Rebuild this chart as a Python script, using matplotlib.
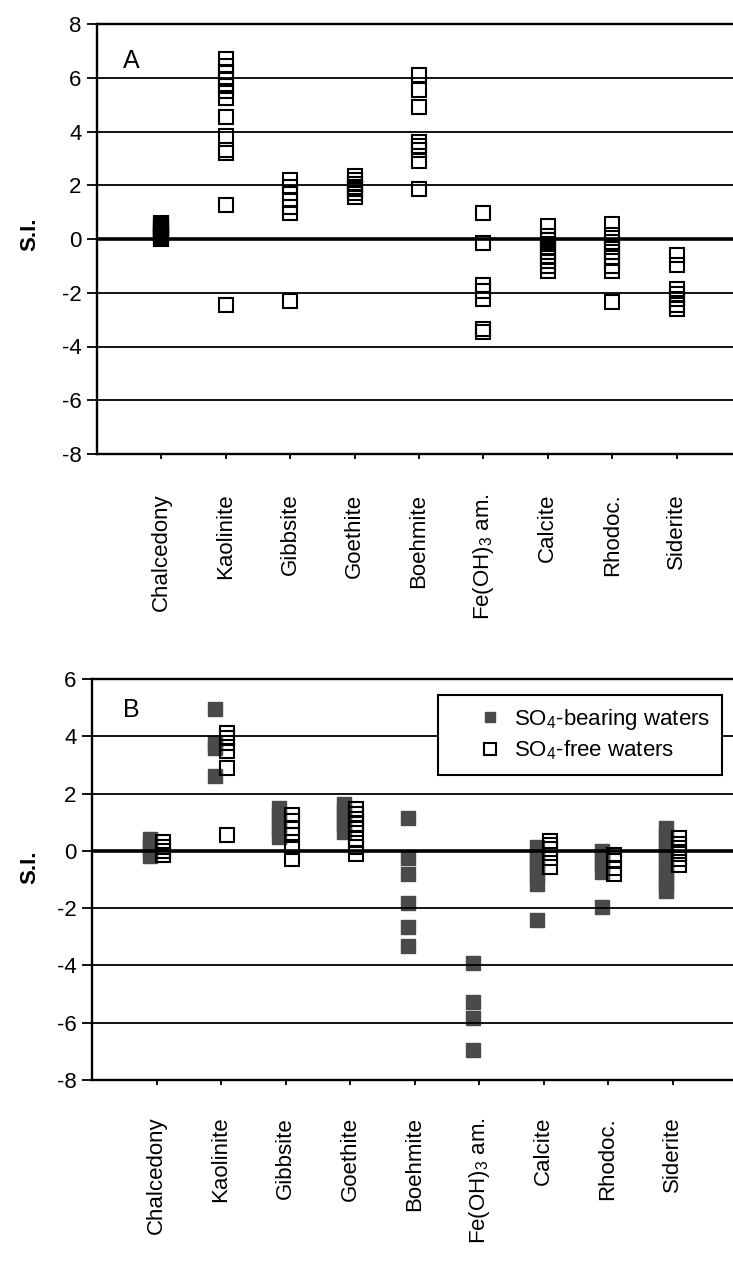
import matplotlib
matplotlib.use("Agg")
import matplotlib.pyplot as plt
from matplotlib.lines import Line2D

plt.rcParams['font.family'] = ['Liberation Sans', 'DejaVu Sans']
plt.rcParams['mathtext.default'] = 'regular'

categories = ["Chalcedony", "Kaolinite", "Gibbsite", "Goethite", "Boehmite",
              "Fe(OH)$_3$ am.", "Calcite", "Rhodoc.", "Siderite"]

# Panel A: saturation indices (all samples)
chalcedony_A = [0.0, 0.05, 0.1, 0.15, 0.2, 0.25, 0.3, 0.35, 0.4, 0.45, 0.5, 0.55, 0.6]
kaolinite_A = [6.7, 6.45, 6.2, 5.95, 5.7, 5.5, 5.25, 4.55, 3.85, 3.3, 3.2, 1.28, -2.46]
gibbsite_A = [2.2, 1.95, 1.7, 1.45, 1.2, 0.97, -2.3]
goethite_A = [2.35, 2.2, 2.05, 1.95, 1.85, 1.7, 1.57]
boehmite_A = [6.1, 5.55, 4.9, 3.6, 3.45, 3.3, 2.9, 1.85]
feoh3_A = [0.95, -0.15, -1.7, -1.95, -2.25, -3.35, -3.45]
calcite_A = [0.5, 0.1, -0.05, -0.2, -0.35, -0.5, -0.65, -0.8, -1.0, -1.2]
rhodoc_A = [0.55, 0.15, -0.1, -0.3, -0.5, -0.7, -1.0, -1.2, -2.35]
siderite_A = [-0.6, -0.95, -1.85, -2.05, -2.25, -2.45, -2.6]
panel_A = [chalcedony_A, kaolinite_A, gibbsite_A, goethite_A, boehmite_A,
           feoh3_A, calcite_A, rhodoc_A, siderite_A]

# Panel B: SO4-bearing waters (filled)
chalcedony_B_so4 = [0.4, 0.2, 0.0, -0.19]
kaolinite_B_so4 = [4.95, 3.75, 3.6, 2.62]
gibbsite_B_so4 = [1.5, 1.25, 1.0, 0.75, 0.5]
goethite_B_so4 = [1.65, 1.4, 1.15, 0.9, 0.67]
boehmite_B_so4 = [1.16, -0.26, -0.81, -1.81, -2.65, -3.32]
feoh3_B_so4 = [-3.9, -5.27, -5.85, -6.95]
calcite_B_so4 = [0.15, -0.1, -0.35, -0.6, -0.85, -1.15, -2.4]
rhodoc_B_so4 = [0.0, -0.25, -0.5, -0.75, -1.95]
siderite_B_so4 = [0.8, 0.55, 0.3, 0.05, -0.2, -0.45, -0.7, -0.95, -1.2, -1.4]
panel_B_so4 = [chalcedony_B_so4, kaolinite_B_so4, gibbsite_B_so4, goethite_B_so4,
               boehmite_B_so4, feoh3_B_so4, calcite_B_so4, rhodoc_B_so4, siderite_B_so4]

# Panel B: SO4-free waters (open)
chalcedony_B_free = [0.3, 0.15, 0.0, -0.13]
kaolinite_B_free = [4.1, 3.95, 3.75, 3.5, 2.9, 0.55]
gibbsite_B_free = [1.25, 1.05, 0.8, 0.55, 0.15, -0.3]
goethite_B_free = [1.45, 1.3, 1.1, 0.95, 0.75, 0.4, 0.15, -0.1]
boehmite_B_free = []
feoh3_B_free = []
calcite_B_free = [0.35, 0.2, 0.05, -0.25, -0.55]
rhodoc_B_free = [-0.15, -0.35, -0.6, -0.8]
siderite_B_free = [0.45, 0.25, 0.1, -0.1, -0.3, -0.48]
panel_B_free = [chalcedony_B_free, kaolinite_B_free, gibbsite_B_free, goethite_B_free,
                boehmite_B_free, feoh3_B_free, calcite_B_free, rhodoc_B_free, siderite_B_free]

A_ticks = [-8, -6, -4, -2, 0, 2, 4, 6, 8]
B_ticks = [-8, -6, -4, -2, 0, 2, 4, 6]

W, H = 733, 1267
fig = plt.figure(figsize=(W / 100, H / 100), dpi=100)

FILL = '#4a4a4a'
MS = 9.4
MEW = 1.5
FS = 16


def style_axes(ax, ticks):
    ax.set_xlim(0, 10)
    ax.set_ylim(ticks[0], ticks[-1])
    ax.set_yticks(ticks)
    ax.set_yticklabels([str(t) for t in ticks])
    ax.set_xticks(range(1, len(categories) + 1))
    ax.set_xticklabels(categories, rotation=90, ha='center', va='top')
    ax.yaxis.grid(True, color='black', lw=1.3)
    ax.set_axisbelow(False)
    ax.axhline(0, color='black', lw=2.6, zorder=3)
    for s in ['left', 'bottom', 'top']:
        ax.spines[s].set_linewidth(1.7)
    ax.spines['right'].set_visible(False)
    ax.tick_params(axis='y', direction='out', length=7, width=1.3, pad=4, labelsize=FS)
    ax.tick_params(axis='x', direction='out', length=3.5, width=1.3, pad=25, labelsize=FS)


# ---- Panel A ----
axA = fig.add_axes([97 / W, 1 - 454 / H, 644 / W, 430 / H])
for i, vals in enumerate(panel_A):
    axA.plot([i + 1] * len(vals), vals, ls='none', marker='s', ms=MS,
             mfc='none', mec='black', mew=MEW, zorder=2)
style_axes(axA, A_ticks)
axA.set_ylabel('S.I.', fontsize=FS, fontweight='bold', va='center')
axA.yaxis.set_label_coords(-67 / 644, 0.51)
axA.text(0.4, 6.63, 'A', fontsize=18, va='center', ha='left')

# ---- Panel B ----
axB = fig.add_axes([92 / W, 1 - 1080 / H, 645 / W, 401 / H])
for i, vals in enumerate(panel_B_so4):
    axB.plot([i + 1 - 0.1] * len(vals), vals, ls='none', marker='s', ms=10,
             mfc=FILL, mec=FILL, mew=1.0, zorder=2)
for i, vals in enumerate(panel_B_free):
    axB.plot([i + 1 + 0.1] * len(vals), vals, ls='none', marker='s', ms=MS,
             mfc='none', mec='black', mew=MEW, zorder=2)
style_axes(axB, B_ticks)
axB.tick_params(axis='x', pad=23)
axB.set_ylabel('S.I.', fontsize=FS, fontweight='bold', va='center')
axB.yaxis.set_label_coords(-62 / 645, 0.53)
axB.text(0.48, 4.93, 'B', fontsize=18, va='center', ha='left')

handles = [
    Line2D([], [], ls='none', marker='s', ms=7, mfc=FILL, mec=FILL),
    Line2D([], [], ls='none', marker='s', ms=8, mfc='white', mec='black', mew=1.5),
]
leg = axB.legend(handles, ['SO$_4$-bearing waters', 'SO$_4$-free waters'],
                 loc='upper right', bbox_to_anchor=(722 / W, 1 - 695 / H),
                 bbox_transform=fig.transFigure, fontsize=16, frameon=True,
                 fancybox=False, framealpha=1, edgecolor='black',
                 handlelength=3.6, handletextpad=-0.75, borderpad=0.55,
                 labelspacing=0.3, borderaxespad=0)
leg.get_frame().set_linewidth(1.5)
leg.set_zorder(5)

fig.savefig('out.png', dpi=100)
